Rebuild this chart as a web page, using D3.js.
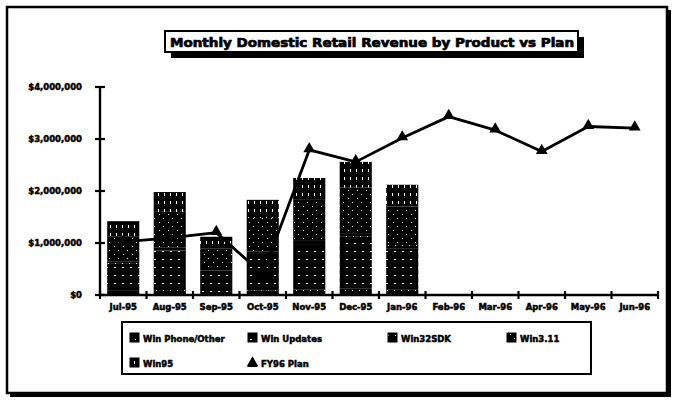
<!DOCTYPE html>
<html>
<head>
<meta charset="utf-8">
<script src="https://cdn.jsdelivr.net/npm/d3@7"></script>
<style>
  html, body { margin: 0; padding: 0; background: #fff; }
  svg text { font-family: "DejaVu Sans", "Liberation Sans", Arial, sans-serif; font-weight: bold; fill: #000; }
</style>
</head>
<body>
<svg id="chart" width="679" height="404"></svg>
<script>
// Months of fiscal year 1996
const months = ["Jul-95", "Aug-95", "Sep-95", "Oct-95", "Nov-95", "Dec-95",
                "Jan-96", "Feb-96", "Mar-96", "Apr-96", "May-96", "Jun-96"];

// Actual revenue by product (dollars), reported months only
const winPhoneOther = [80000, 95000, 60000, 90000, 110000, 120000, 100000];
const winUpdates    = [520000, 760000, 410000, 700000, 870000, 1000000, 800000];
const win32SDK      = [40000, 55000, 30000, 50000, 60000, 70000, 60000];
const win311        = [480000, 690000, 390000, 640000, 790000, 880000, 740000];
const win95         = [300000, 380000, 230000, 350000, 420000, 490000, 420000];

// Plan for the full year
const fy96Plan = [1020000, 1100000, 1200000, 400000, 2790000, 2560000,
                  3020000, 3430000, 3170000, 2760000, 3240000, 3210000];

const seriesNames = ["Win Phone/Other", "Win Updates", "Win32SDK", "Win3.11", "Win95"];
const seriesValues = [winPhoneOther, winUpdates, win32SDK, win311, win95];
const yTicks = [0, 1000000, 2000000, 3000000, 4000000];
const yTickLabels = ["$0", "$1,000,000", "$2,000,000", "$3,000,000", "$4,000,000"];

const svg = d3.select("#chart");
const defs = svg.append("defs");

// Dark hatch fills for the product series
function makePattern(id, w, h, dots) {
  const p = defs.append("pattern").attr("id", id)
    .attr("patternUnits", "userSpaceOnUse").attr("width", w).attr("height", h);
  p.append("rect").attr("width", w).attr("height", h).attr("fill", "#000");
  dots.forEach(d => p.append("rect").attr("x", d[0]).attr("y", d[1])
    .attr("width", d[2]).attr("height", d[3]).attr("fill", "#fff"));
}
makePattern("p0", 7, 7, [[2, 3, 1, 1]]);
makePattern("p1", 8, 8, [[2, 3, 2, 1]]);
makePattern("p2", 7, 9, [[3, 2, 1, 1]]);
makePattern("p3", 9, 8, [[1, 2, 1, 1], [6, 6, 1, 1]]);
makePattern("p4", 6, 8, [[2, 1, 1, 3]]);

// Outer frame with drop shadow
svg.append("rect").attr("x", 10).attr("y", 10).attr("width", 661).attr("height", 387).attr("fill", "#000");
svg.append("rect").attr("x", 7).attr("y", 7).attr("width", 660).attr("height", 386)
  .attr("fill", "#fff").attr("stroke", "#000").attr("stroke-width", 2.5);

// Title box with shadow
svg.append("rect").attr("x", 171).attr("y", 37).attr("width", 413).attr("height", 21).attr("fill", "#000");
svg.append("rect").attr("x", 165).attr("y", 31).attr("width", 413).attr("height", 21)
  .attr("fill", "#fff").attr("stroke", "#000").attr("stroke-width", 2);
svg.append("text").attr("x", 170).attr("y", 46.5)
  .attr("font-size", 12).attr("textLength", 404).attr("lengthAdjust", "spacingAndGlyphs")
  .attr("stroke", "#000").attr("stroke-width", 0.7)
  .text("Monthly Domestic Retail Revenue by Product vs Plan");

// Scales
const x = d3.scaleBand().domain(months).range([100, 658]).paddingInner(0.31).paddingOuter(0.155);
const y = d3.scaleLinear().domain([0, 4000000]).range([295, 87]);

// Stacked bars
const reported = months.slice(0, winPhoneOther.length);
const rows = reported.map((m, i) => {
  const r = { month: m };
  seriesNames.forEach((s, k) => r[s] = seriesValues[k][i]);
  return r;
});
const stacked = d3.stack().keys(seriesNames)(rows);
svg.append("g").selectAll("g").data(stacked).join("g")
  .attr("fill", (d, k) => `url(#p${k})`)
  .selectAll("rect").data(d => d).join("rect")
  .attr("x", d => x(d.data.month))
  .attr("width", x.bandwidth())
  .attr("y", d => y(d[1]))
  .attr("height", d => y(d[0]) - y(d[1]));

// Plan line with triangle markers
const cx = m => x(m) + x.bandwidth() / 2;
const line = d3.line().x((d, i) => cx(months[i])).y(d => y(d));
svg.append("path").datum(fy96Plan).attr("d", line)
  .attr("fill", "none").attr("stroke", "#000").attr("stroke-width", 2.8).attr("stroke-linejoin", "round");
const tri = d3.symbol().type(d3.symbolTriangle).size(60);
svg.append("g").selectAll("path").data(fy96Plan).join("path")
  .attr("d", tri)
  .attr("transform", (d, i) => `translate(${cx(months[i])},${y(d) - 1})`)
  .attr("fill", "#000");

// Y axis
const yAxis = svg.append("g");
yAxis.append("line").attr("x1", 100).attr("x2", 100).attr("y1", y(4000000)).attr("y2", y(0))
  .attr("stroke", "#000").attr("stroke-width", 2.4);
yAxis.selectAll("line.tick").data(yTicks).join("line").attr("class", "tick")
  .attr("x1", 95).attr("x2", 105).attr("y1", d => y(d)).attr("y2", d => y(d))
  .attr("stroke", "#000").attr("stroke-width", 2.2);
yAxis.selectAll("text").data(yTicks).join("text")
  .attr("x", 82).attr("y", d => y(d) + 3).attr("text-anchor", "end")
  .attr("font-size", 8.5).attr("stroke", "#000").attr("stroke-width", 0.5)
  .text((d, i) => yTickLabels[i]);

// X axis with ticks at category boundaries
const xAxis = svg.append("g");
xAxis.append("line").attr("x1", 100).attr("x2", 658).attr("y1", y(0)).attr("y2", y(0))
  .attr("stroke", "#000").attr("stroke-width", 2.4);
const boundaries = d3.range(months.length + 1).map(i => 100 + i * x.step());
xAxis.selectAll("line.tick").data(boundaries).join("line").attr("class", "tick")
  .attr("x1", d => d).attr("x2", d => d).attr("y1", y(0) - 4).attr("y2", y(0) + 4)
  .attr("stroke", "#000").attr("stroke-width", 2.2);
xAxis.selectAll("text").data(months).join("text")
  .attr("x", d => cx(d)).attr("y", 310).attr("text-anchor", "middle")
  .attr("font-size", 8.5).attr("stroke", "#000").attr("stroke-width", 0.5)
  .text(d => d);

// Legend
const legend = svg.append("g");
legend.append("rect").attr("x", 122).attr("y", 322).attr("width", 469).attr("height", 52)
  .attr("fill", "none").attr("stroke", "#000").attr("stroke-width", 2);
const legendItems = [
  { name: seriesNames[0], k: 0, lx: 130, ly: 338 },
  { name: seriesNames[1], k: 1, lx: 248, ly: 338 },
  { name: seriesNames[2], k: 2, lx: 388, ly: 338 },
  { name: seriesNames[3], k: 3, lx: 507, ly: 338 },
  { name: seriesNames[4], k: 4, lx: 130, ly: 363 },
  { name: "FY96 Plan", k: -1, lx: 248, ly: 363 }
];
legendItems.forEach(it => {
  if (it.k >= 0) {
    legend.append("rect").attr("x", it.lx).attr("y", it.ly - 5).attr("width", 9).attr("height", 9)
      .attr("fill", `url(#p${it.k})`).attr("stroke", "#000");
  } else {
    legend.append("line").attr("x1", it.lx).attr("x2", it.lx + 9).attr("y1", it.ly + 3).attr("y2", it.ly + 3)
      .attr("stroke", "#000").attr("stroke-width", 2);
    legend.append("path").attr("d", tri).attr("transform", `translate(${it.lx + 4.5},${it.ly})`);
  }
  legend.append("text").attr("x", it.lx + 13).attr("y", it.ly + 3.5)
    .attr("font-size", 8.5).attr("stroke", "#000").attr("stroke-width", 0.5)
    .text(it.name);
});
</script>
</body>
</html>
